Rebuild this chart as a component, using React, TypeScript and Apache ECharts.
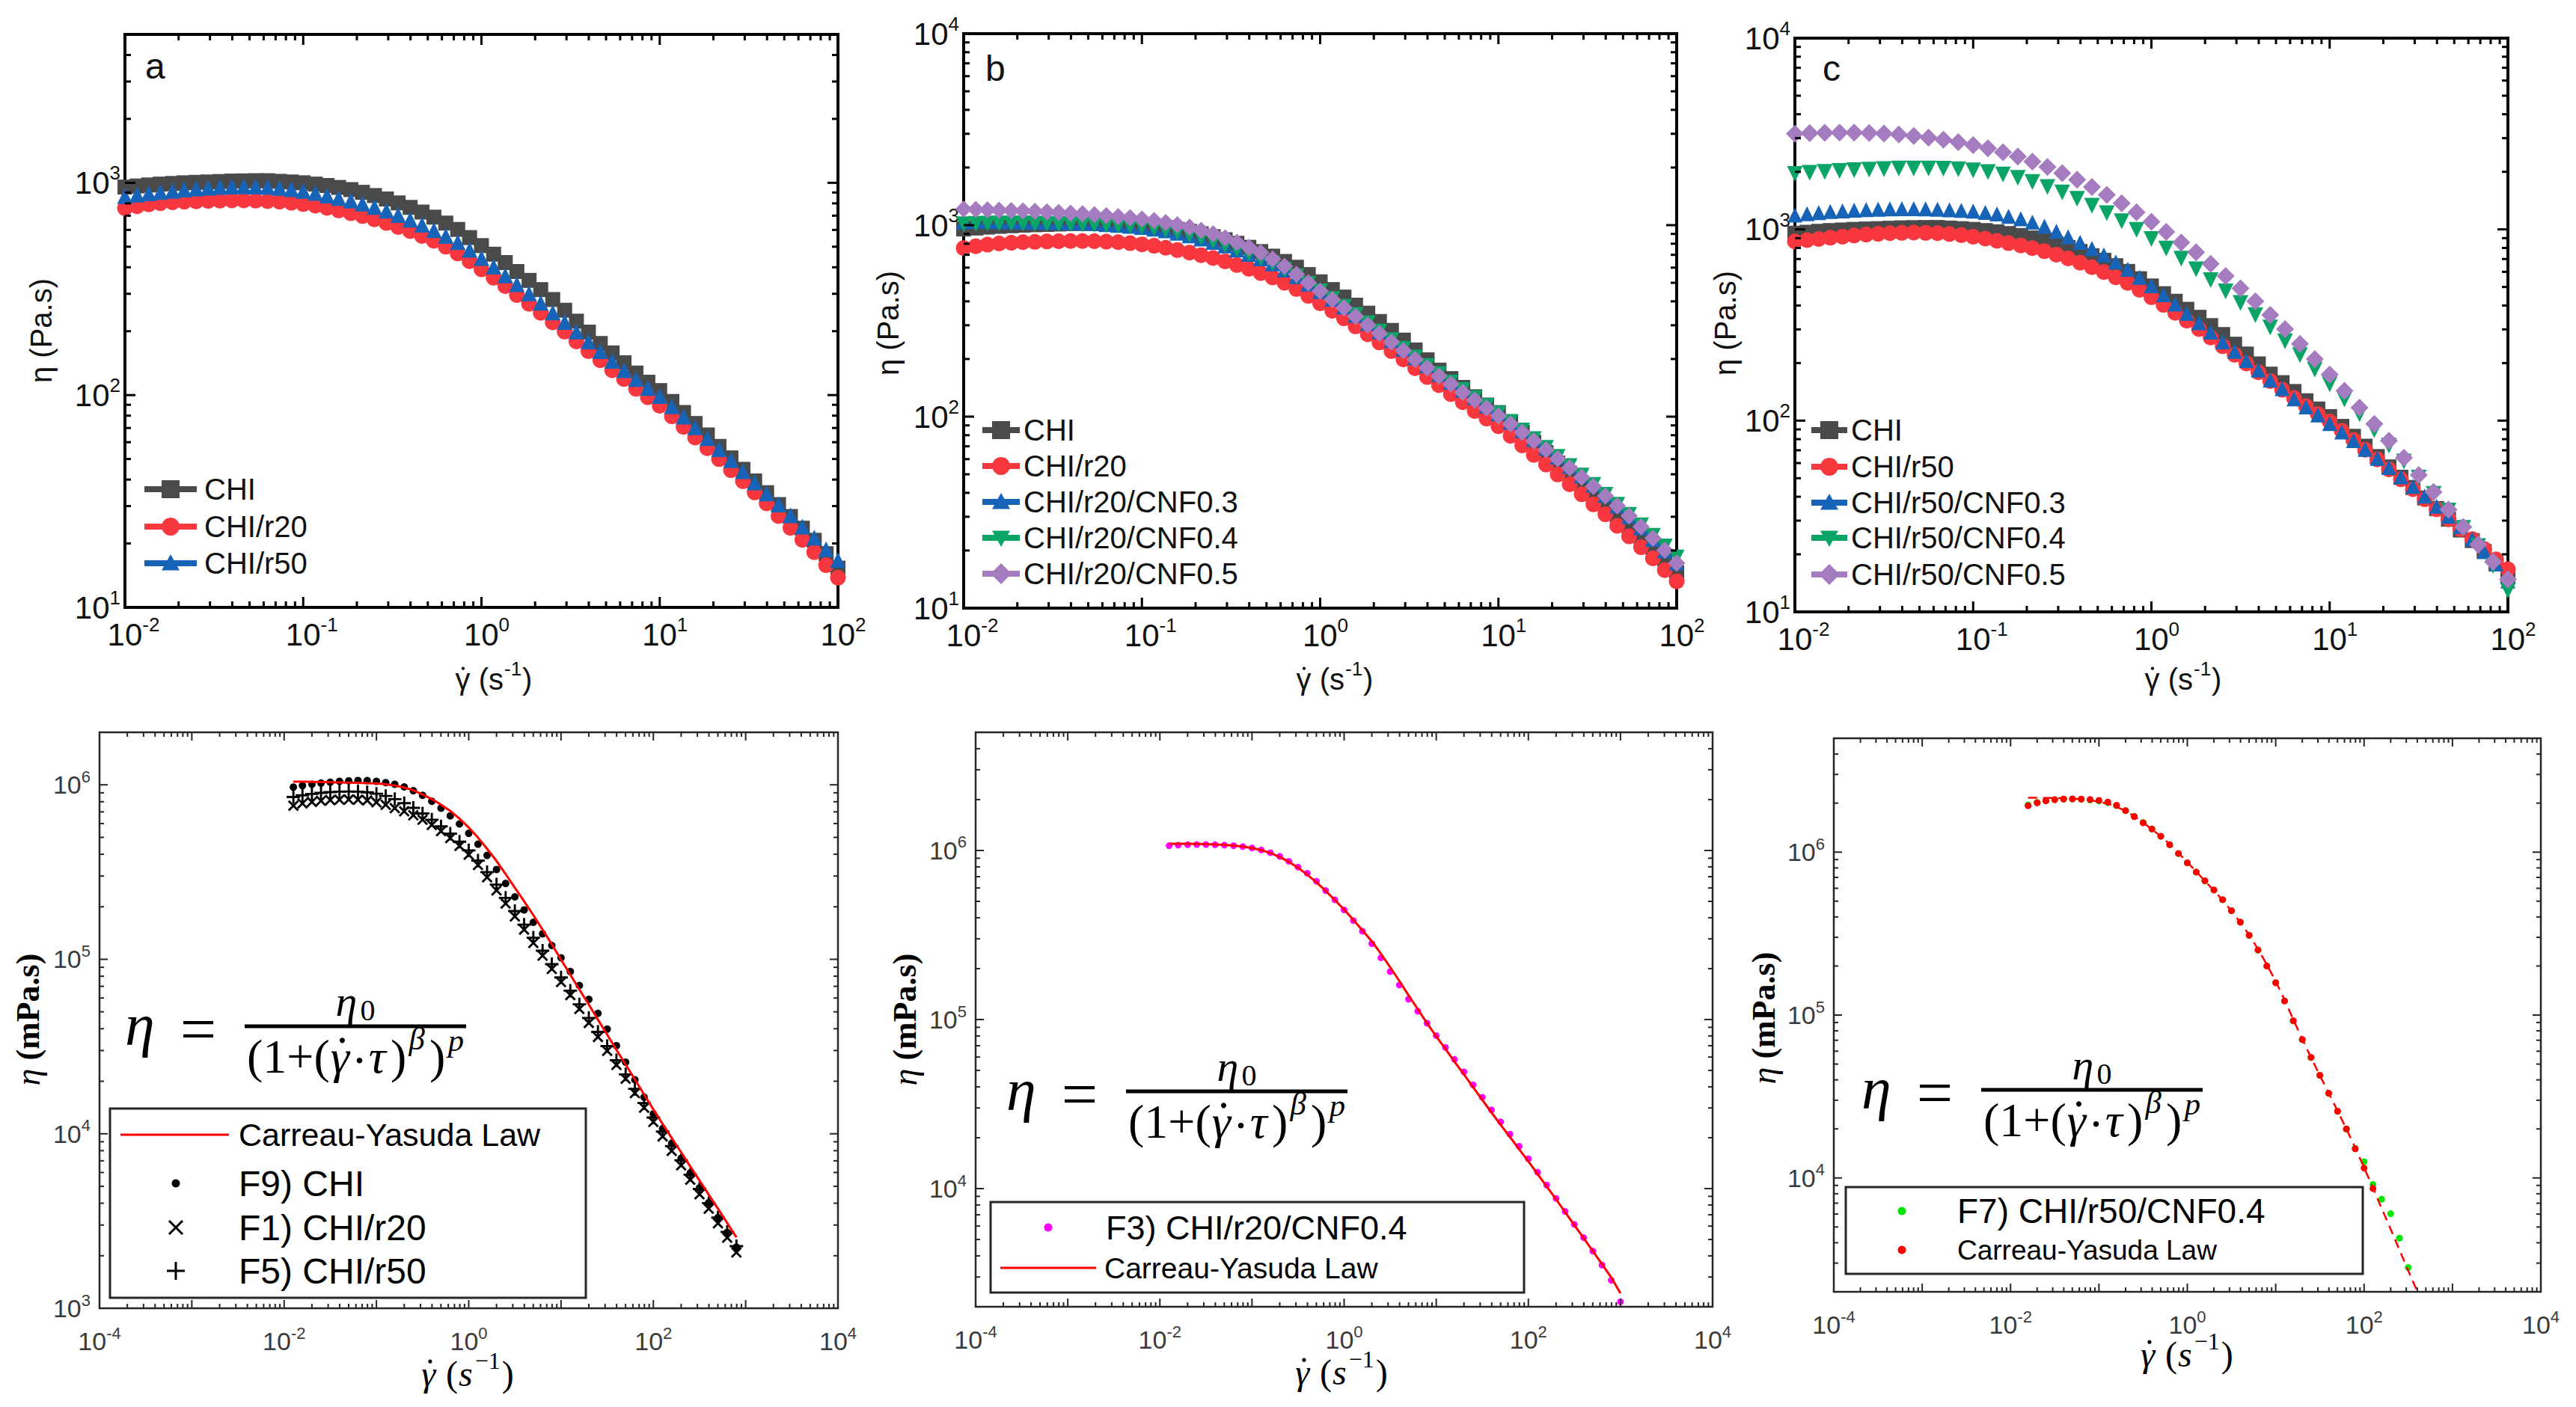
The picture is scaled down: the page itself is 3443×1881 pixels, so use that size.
import React, { useEffect, useRef } from "react";
import * as echarts from "echarts";

const SANS = "Liberation Sans, Arial, Helvetica, sans-serif";
const SERIF = "Liberation Serif, Times New Roman, serif";

// ---------------- data: top row (Pa.s) ----------------
const SHEAR_RATE = [
  0.01, 0.0117, 0.0136, 0.0158, 0.0185, 0.0215, 0.0251, 0.0293, 0.0341, 0.0398, 0.0464, 0.0541, 0.0631, 0.0736, 0.0858,
  0.1, 0.117, 0.136, 0.158, 0.185, 0.215, 0.251, 0.293, 0.341, 0.398, 0.464, 0.541, 0.631, 0.736, 0.858,
  1, 1.17, 1.36, 1.58, 1.85, 2.15, 2.51, 2.93, 3.41, 3.98, 4.64, 5.41, 6.31, 7.36, 8.58,
  10, 11.7, 13.6, 15.8, 18.5, 21.5, 25.1, 29.3, 34.1, 39.8, 46.4, 54.1, 63.1, 73.6, 85.8,
  100,
];
const SHEAR_RATE_SPARSE = [
  0.01, 0.0121, 0.0147, 0.0178, 0.0215, 0.0261, 0.0316, 0.0383, 0.0464, 0.0562, 0.0681, 0.0825,
  0.1, 0.121, 0.147, 0.178, 0.215, 0.261, 0.316, 0.383, 0.464, 0.562, 0.681, 0.825,
  1, 1.21, 1.47, 1.78, 2.15, 2.61, 3.16, 3.83, 4.64, 5.62, 6.81, 8.25,
  10, 12.1, 14.7, 17.8, 21.5, 26.1, 31.6, 38.3, 46.4, 56.2, 68.1, 82.5,
  100,
];
const ETA_CHI = [
  955, 966, 977, 986, 993, 1000, 1005, 1009, 1014, 1019, 1021, 1023, 1023, 1016, 1009,
  1000, 986, 971, 951, 929, 902, 871, 839, 804, 766, 728, 689, 646, 603, 552,
  506, 461, 421, 382, 347, 314, 282, 251, 223, 198, 175, 158, 142, 127, 115,
  105, 93.3, 82.8, 73.5, 64.9, 57.3, 50.6, 44.7, 39.4, 34.7, 30.5, 26.8, 23.6, 20.7, 17.9,
  15.3,
];
const ETA_CHI_R20 = [
  759, 776, 791, 802, 809, 815, 818, 822, 824, 826, 826, 824, 820, 815, 805,
  794, 780, 762, 741, 719, 697, 673, 647, 619, 592, 562, 533, 500, 464, 427,
  391, 357, 326, 296, 269, 244, 220, 199, 179, 161, 146, 131, 119, 107, 97.7,
  89.1, 79.4, 70.8, 63.1, 56.2, 49.9, 44.3, 39.3, 34.8, 30.9, 26.9, 23.7, 20.8, 18.2, 15.8,
  13.8,
];
const ETA_CHI_R50 = [
  865, 879, 891, 904, 916, 929, 940, 948, 955, 959, 962, 959, 955, 946, 933,
  916, 895, 871, 847, 824, 798, 769, 738, 705, 670, 634, 598, 562, 525, 483,
  442, 403, 366, 333, 301, 272, 245, 221, 199, 179, 161, 145, 131, 119, 108,
  98.9, 88.5, 79.1, 70.5, 62.7, 55.6, 49.3, 43.8, 38.8, 34.4, 30.5, 27.1, 24.0, 21.3, 18.8,
  16.7,
];
const ETA_R20_CNF03 = [
  1047, 1050, 1050, 1047, 1045, 1042, 1040, 1038, 1035, 1033, 1028, 1023, 1012, 1002, 991,
  977, 959, 938, 912, 883, 851, 817, 782, 745, 708, 670, 631, 585, 541, 495,
  452, 412, 375, 340, 308, 279, 251, 226, 204, 185, 167, 152, 138, 126, 114,
  104, 94.0, 84.9, 76.6, 68.9, 61.8, 55.3, 49.4, 44.1, 39.0, 34.4, 30.2, 26.4, 23.0, 20.0,
  17.3,
];
const ETA_R20_CNF04 = [
  1012, 1016, 1019, 1021, 1021, 1021, 1019, 1017, 1014, 1012, 1009, 1005, 1000, 995, 988,
  980, 962, 942, 918, 891, 859, 824, 787, 748, 710, 670, 630, 586, 540, 494,
  451, 411, 374, 340, 308, 278, 251, 226, 204, 184, 167, 151, 138, 125, 114,
  104, 93.8, 84.7, 76.4, 68.7, 61.7, 55.2, 49.3, 44.0, 39.1, 34.7, 30.7, 27.1, 23.9, 21.0,
  18.4,
];
const ETA_R20_CNF05 = [
  1213, 1208, 1202, 1197, 1191, 1186, 1180, 1172, 1164, 1156, 1146, 1135, 1122, 1109, 1094,
  1076, 1057, 1033, 1005, 975, 940, 902, 859, 813, 766, 718, 665, 610, 553, 500,
  452, 409, 370, 334, 301, 272, 245, 221, 199, 180, 163, 148, 134, 122, 111,
  101, 91.6, 82.8, 74.6, 67.1, 60.3, 54.0, 48.3, 43.2, 38.5, 34.2, 30.3, 26.6, 23.2, 20.1,
  17.2,
];
const ETA_R50_CNF03 = [
  1189, 1208, 1225, 1239, 1250, 1259, 1268, 1274, 1279, 1282, 1282, 1279, 1274, 1265, 1256,
  1245, 1227, 1205, 1169, 1135, 1091, 1038, 977, 916, 855, 794, 735, 676, 619, 562,
  507, 455, 407, 364, 325, 290, 258, 230, 206, 184, 163, 147, 130, 118, 107,
  96.6, 87.3, 78.7, 70.8, 63.5, 56.9, 50.8, 45.3, 40.3, 35.7, 31.6, 27.9, 24.0, 20.7, 17.8,
  14.5,
];
const ETA_R50_CNF04 = [
  1950, 1977, 2000, 2023, 2042, 2056, 2070, 2080, 2084, 2084, 2075, 2061,
  2037, 1995, 1936, 1862, 1770, 1667, 1560, 1445, 1330, 1216, 1104, 995,
  891, 794, 703, 619, 543, 474, 412, 356, 307, 260, 220, 185,
  155, 129, 108, 89.3, 74.0, 61.1, 50.4, 41.4, 33.9, 27.5, 22.1, 17.4,
  12.9,
];
const ETA_R50_CNF05 = [
  3162, 3184, 3199, 3206, 3206, 3192, 3170, 3133, 3083, 3020, 2944, 2858,
  2761, 2655, 2535, 2404, 2265, 2118, 1968, 1820, 1667, 1517, 1371, 1230,
  1096, 971, 853, 759, 661, 571, 492, 421, 357, 301, 252, 210,
  174, 143, 117, 96.2, 78.5, 64.0, 52.0, 42.3, 34.3, 27.8, 22.5, 18.3,
  14.8,
];

// ---------------- data: bottom row (mPa.s) ----------------
const RATE_D = [
  0.0126, 0.0158, 0.02, 0.0251, 0.0316, 0.0398, 0.0501, 0.0631, 0.0794,
  0.1, 0.126, 0.158, 0.2, 0.251, 0.316, 0.398, 0.501, 0.631, 0.794,
  1, 1.26, 1.58, 2, 2.51, 3.16, 3.98, 5.01, 6.31, 7.94,
  10, 12.6, 15.8, 20, 25.1, 31.6, 39.8, 50.1, 63.1, 79.4,
  100, 126, 158, 200, 251, 316, 398, 501, 631, 794,
];
const F9_CHI = [
  9.70e5, 9.89e5, 1.007e6, 1.023e6, 1.035e6, 1.047e6, 1.054e6, 1.059e6, 1.057e6,
  1.047e6, 1.030e6, 1.007e6, 9.73e5, 9.25e5, 8.71e5, 8.05e5, 7.35e5, 6.64e5, 5.97e5,
  5.27e5, 4.57e5, 3.94e5, 3.27e5, 2.72e5, 2.28e5, 1.92e5, 1.63e5, 1.40e5, 1.20e5,
  1.02e5, 8.51e4, 7.08e4, 5.89e4, 4.90e4, 3.98e4, 3.20e4, 2.57e4, 2.04e4, 1.62e4,
  1.30e4, 1.07e4, 8.81e3, 7.24e3, 5.96e3, 4.90e3, 4.03e3, 3.31e3, 2.72e3, 2.24e3,
];
const F1_CHI_R20 = [
  7.59e5, 7.82e5, 7.98e5, 8.09e5, 8.17e5, 8.22e5, 8.24e5, 8.22e5, 8.13e5,
  7.94e5, 7.69e5, 7.35e5, 7.05e5, 6.70e5, 6.31e5, 5.89e5, 5.43e5, 4.95e5, 4.47e5,
  3.98e5, 3.47e5, 2.95e5, 2.48e5, 2.09e5, 1.76e5, 1.48e5, 1.24e5, 1.05e5, 8.81e4,
  7.41e4, 6.24e4, 5.19e4, 4.32e4, 3.59e4, 2.99e4, 2.48e4, 2.07e4, 1.71e4, 1.41e4,
  1.17e4, 9.66e3, 7.98e3, 6.59e3, 5.45e3, 4.50e3, 3.72e3, 3.07e3, 2.54e3, 2.09e3,
];
const F5_CHI_R50 = [
  8.51e5, 8.71e5, 8.87e5, 8.99e5, 9.08e5, 9.14e5, 9.16e5, 9.14e5, 9.06e5,
  8.89e5, 8.63e5, 8.28e5, 7.85e5, 7.38e5, 6.85e5, 6.31e5, 5.78e5, 5.25e5, 4.72e5,
  4.21e5, 3.68e5, 3.16e5, 2.68e5, 2.25e5, 1.89e5, 1.58e5, 1.33e5, 1.12e5, 9.38e4,
  7.87e4, 6.61e4, 5.52e4, 4.61e4, 3.84e4, 3.18e4, 2.64e4, 2.19e4, 1.81e4, 1.50e4,
  1.24e4, 1.03e4, 8.51e3, 7.05e3, 5.83e3, 4.83e3, 4.00e3, 3.31e3, 2.74e3, 2.27e3,
];
const CY_FIT_D = [
  1.042e6, 1.042e6, 1.040e6, 1.038e6, 1.035e6, 1.033e6, 1.030e6, 1.028e6, 1.023e6,
  1.019e6, 1.007e6, 9.91e5, 9.66e5, 9.29e5, 8.81e5, 8.28e5, 7.69e5, 7.08e5, 6.40e5,
  5.69e5, 4.98e5, 4.30e5, 3.66e5, 3.08e5, 2.57e5, 2.15e5, 1.79e5, 1.48e5, 1.22e5,
  9.95e4, 8.17e4, 6.70e4, 5.50e4, 4.51e4, 3.70e4, 3.03e4, 2.49e4, 2.05e4, 1.68e4,
  1.38e4, 1.14e4, 9.46e3, 7.83e3, 6.50e3, 5.40e3, 4.48e3, 3.72e3, 3.08e3, 2.55e3,
];
const RATE_E = [
  0.0126, 0.0158, 0.02, 0.0251, 0.0316, 0.0398, 0.0501, 0.0631, 0.0794,
  0.1, 0.126, 0.158, 0.2, 0.251, 0.316, 0.398, 0.501, 0.631, 0.794,
  1, 1.26, 1.58, 2, 2.51, 3.16, 3.98, 5.01, 6.31, 7.94,
  10, 12.6, 15.8, 20, 25.1, 31.6, 39.8, 50.1, 63.1, 79.4,
  100, 126, 158, 200, 251, 316, 398, 501, 631, 794, 1000,
];
const F3_R20_CNF04 = [
  1.067e6, 1.076e6, 1.081e6, 1.084e6, 1.084e6, 1.081e6, 1.076e6, 1.067e6, 1.054e6,
  1.035e6, 1.007e6, 9.70e5, 9.23e5, 8.63e5, 7.98e5, 7.33e5, 6.58e5, 5.79e5, 5.11e5,
  4.45e5, 3.85e5, 3.33e5, 2.81e5, 2.32e5, 1.92e5, 1.60e5, 1.32e5, 1.12e5, 9.51e4,
  8.04e4, 6.84e4, 5.81e4, 4.90e4, 4.11e4, 3.47e4, 2.92e4, 2.48e4, 2.10e4, 1.78e4,
  1.50e4, 1.25e4, 1.05e4, 8.75e3, 7.33e3, 6.14e3, 5.13e3, 4.27e3, 3.53e3, 2.87e3, 2.14e3,
];
const CY_FIT_E = [
  1.096e6, 1.096e6, 1.096e6, 1.094e6, 1.091e6, 1.086e6, 1.079e6, 1.069e6, 1.054e6,
  1.033e6, 1.005e6, 9.66e5, 9.16e5, 8.57e5, 7.91e5, 7.19e5, 6.47e5, 5.77e5, 5.09e5,
  4.47e5, 3.89e5, 3.37e5, 2.90e5, 2.45e5, 2.04e5, 1.69e5, 1.39e5, 1.15e5, 9.51e4,
  7.95e4, 6.70e4, 5.63e4, 4.73e4, 3.98e4, 3.35e4, 2.82e4, 2.38e4, 2.02e4, 1.71e4,
  1.45e4, 1.22e4, 1.03e4, 8.65e3, 7.25e3, 6.08e3, 5.10e3, 4.27e3, 3.57e3, 2.98e3, 2.40e3,
];
const RATE_F = [
  0.0158, 0.02, 0.0251, 0.0316, 0.0398, 0.0501, 0.0631, 0.0794,
  0.1, 0.126, 0.158, 0.2, 0.251, 0.316, 0.398, 0.501, 0.631, 0.794,
  1, 1.26, 1.58, 2, 2.51, 3.16, 3.98, 5.01, 6.31, 7.94,
  10, 12.6, 15.8, 20, 25.1, 31.6, 39.8, 50.1, 63.1, 79.4,
  100, 126, 158, 200, 251, 316,
];
const F7_R50_CNF04 = [
  1.95e6, 2.02e6, 2.07e6, 2.10e6, 2.12e6, 2.12e6, 2.11e6, 2.09e6,
  2.06e6, 2.01e6, 1.93e6, 1.80e6, 1.66e6, 1.52e6, 1.39e6, 1.25e6, 1.11e6, 9.80e5,
  8.60e5, 7.55e5, 6.65e5, 5.85e5, 5.10e5, 4.37e5, 3.72e5, 3.08e5, 2.50e5, 2.00e5,
  1.58e5, 1.22e5, 9.20e4, 7.05e4, 5.48e4, 4.26e4, 3.30e4, 2.56e4, 1.99e4, 1.52e4,
  1.26e4, 9.12e3, 7.41e3, 6.03e3, 4.27e3, 2.82e3,
];
const RATE_F_DOTS = [
  0.0158, 0.02, 0.0251, 0.0316, 0.0398, 0.0501, 0.0631, 0.0794,
  0.1, 0.126, 0.158, 0.2, 0.251, 0.316, 0.398, 0.501, 0.631, 0.794,
  1, 1.26, 1.58, 2, 2.51, 3.16, 3.98, 5.01, 6.31, 7.94,
  10, 12.6, 15.8, 20, 25.1, 31.6, 39.8, 50.1, 63.1, 79.4,
  100, 126,
];
const CY_DOTS_F = [
  1.928e6, 2.009e6, 2.065e6, 2.099e6, 2.118e6, 2.123e6, 2.118e6, 2.104e6,
  2.080e6, 2.032e6, 1.941e6, 1.799e6, 1.652e6, 1.514e6, 1.387e6, 1.253e6, 1.112e6, 9.82e5,
  8.61e5, 7.55e5, 6.68e5, 5.86e5, 5.11e5, 4.37e5, 3.72e5, 3.09e5, 2.51e5, 2.00e5,
  1.58e5, 1.22e5, 9.23e4, 7.08e4, 5.50e4, 4.27e4, 3.31e4, 2.57e4, 2.00e4, 1.51e4,
  1.15e4, 8.61e3,
];
const RATE_F_LINE = [
  0.0158, 0.02, 0.0251, 0.0316, 0.0398, 0.0501, 0.0631, 0.0794,
  0.1, 0.126, 0.158, 0.2, 0.251, 0.316, 0.398, 0.501, 0.631, 0.794,
  1, 1.26, 1.58, 2, 2.51, 3.16, 3.98, 5.01, 6.31, 7.94,
  10, 12.6, 15.8, 20, 25.1, 31.6, 39.8, 50.1, 63.1, 79.4,
  100, 126, 158, 200, 251, 316, 398, 501,
];
const CY_FIT_F = [
  2.16e6, 2.16e6, 2.15e6, 2.15e6, 2.14e6, 2.13e6, 2.11e6, 2.08e6,
  2.04e6, 1.98e6, 1.90e6, 1.79e6, 1.66e6, 1.52e6, 1.38e6, 1.25e6, 1.12e6, 9.90e5,
  8.68e5, 7.60e5, 6.65e5, 5.82e5, 5.06e5, 4.35e5, 3.70e5, 3.10e5, 2.54e5, 2.04e5,
  1.61e5, 1.24e5, 9.40e4, 7.12e4, 5.48e4, 4.26e4, 3.32e4, 2.58e4, 2.00e4, 1.53e4,
  1.16e4, 8.70e3, 6.50e3, 4.85e3, 3.62e3, 2.70e3, 2.02e3, 1.51e3,
];

// ---------------- layout / styles ----------------
const GRAY = "#4a4a4a";
const RED = "#f8373f";
const BLUE = "#1663b8";
const GREEN = "#0aa566";
const PURPLE = "#a67cc0";

const PANELS = [
  { left: 167, top: 46, width: 953, height: 766, x: [0.01, 100], y: [10, 5000], kind: "top" },
  { left: 1288, top: 45, width: 953, height: 768, x: [0.01, 100], y: [10, 10000], kind: "top" },
  { left: 2399, top: 51, width: 953, height: 767, x: [0.01, 100], y: [10, 10000], kind: "top" },
  { left: 133, top: 979, width: 987, height: 770, x: [1e-4, 1e4], y: [1000, 2e6], kind: "bottom" },
  { left: 1304, top: 979, width: 985, height: 768, x: [1e-4, 1e4], y: [2000, 5e6], kind: "bottom" },
  { left: 2451, top: 987, width: 945, height: 740, x: [1e-4, 1e4], y: [2000, 5e6], kind: "bottom" },
];

const TOP_INK = "#111111";
const BOT_INK = "#262626";
const BOT_LABEL = "#3a3a3a";

function expOf(v: number) {
  const e = Math.log10(v);
  const r = Math.round(e);
  return Math.abs(e - r) < 1e-6 ? r : null;
}

const TOP_RICH = {
  b0: { fontSize: 42, fontFamily: SANS, color: TOP_INK, lineHeight: 52 },
  b1: { fontSize: 42, fontFamily: SANS, color: TOP_INK, lineHeight: 52, padding: [0, 0, 0, 14] },
  b2: { fontSize: 42, fontFamily: SANS, color: TOP_INK, lineHeight: 52, padding: [0, 0, 0, 23] },
  s: { fontSize: 26, fontFamily: SANS, color: TOP_INK, lineHeight: 20, verticalAlign: "top" },
};
const BOT_RICH = {
  b: { fontSize: 34, fontFamily: SANS, color: BOT_LABEL, lineHeight: 44 },
  s: { fontSize: 22, fontFamily: SANS, color: BOT_LABEL, lineHeight: 14, verticalAlign: "top" },
};

function decadeTicks(min: number, max: number) {
  const major: number[] = [];
  const minor: number[] = [];
  const k0 = Math.floor(Math.log10(min)) - 1;
  const k1 = Math.ceil(Math.log10(max)) + 1;
  for (let k = k0; k <= k1; k++) {
    for (let m = 1; m <= 9; m++) {
      const v = m * Math.pow(10, k);
      if (v < min * 0.9999 || v > max * 1.0001) continue;
      (m === 1 ? major : minor).push(v);
    }
  }
  return { major, minor };
}

function tickSeries(gi: number, p: any) {
  const top = p.kind === "top";
  const majLen = top ? 14 : 11;
  const minLen = top ? 8 : 6;
  const lw = top ? 3 : 2;
  const color = top ? "#000" : BOT_INK;
  const xt = decadeTicks(p.x[0], p.x[1]);
  const yt = decadeTicks(p.y[0], p.y[1]);
  return {
    type: "custom",
    xAxisIndex: gi,
    yAxisIndex: gi,
    silent: true,
    z: 6,
    clip: false,
    data: [[p.x[0], p.y[0]]],
    renderItem: (_params: any, api: any) => {
      const children: any[] = [];
      const seg = (x1: number, y1: number, x2: number, y2: number) =>
        children.push({ type: "line", shape: { x1, y1, x2, y2 }, style: { stroke: color, lineWidth: lw } });
      const addX = (v: number, len: number) => {
        const b = api.coord([v, p.y[0]]);
        const t = api.coord([v, p.y[1]]);
        seg(b[0], b[1], b[0], b[1] - len);
        seg(t[0], t[1], t[0], t[1] + len);
      };
      const addY = (v: number, len: number) => {
        const l = api.coord([p.x[0], v]);
        const r = api.coord([p.x[1], v]);
        seg(l[0], l[1], l[0] + len, l[1]);
        seg(r[0], r[1], r[0] - len, r[1]);
      };
      xt.major.forEach((v) => addX(v, majLen));
      xt.minor.forEach((v) => addX(v, minLen));
      yt.major.forEach((v) => addY(v, majLen));
      yt.minor.forEach((v) => addY(v, minLen));
      return { type: "group", children };
    },
  };
}

function pairs(xs: number[], ys: number[]) {
  return xs.map((x, i) => [x, ys[i]]);
}

function scatter(gi: number, name: string, xs: number[], ys: number[], color: string, symbol: string, size: number, rotate = 0) {
  return {
    type: "scatter",
    name,
    xAxisIndex: gi,
    yAxisIndex: gi,
    data: pairs(xs, ys),
    symbol,
    symbolSize: size,
    symbolRotate: rotate,
    itemStyle: { color, opacity: 1 },
    silent: true,
    z: 2,
  };
}

function curve(gi: number, name: string, xs: number[], ys: number[], color: string, width: number, dash: any = "solid") {
  return {
    type: "line",
    name,
    xAxisIndex: gi,
    yAxisIndex: gi,
    data: pairs(xs, ys),
    showSymbol: false,
    symbol: "none",
    clip: true,
    lineStyle: { color, width, type: dash },
    silent: true,
    z: 3,
  };
}

const PLUS = "path://M8.4,0H11.6V20H8.4ZM0,8.4H20V11.6H0Z";

// ---------------- text helpers ----------------
let measureCtx: any = null;
function fontStr(size: number, family: string, italic?: boolean, bold?: boolean) {
  return (italic ? "italic " : "") + (bold ? "bold " : "") + size + "px " + family;
}
function measure(t: string, font: string) {
  if (!measureCtx) measureCtx = document.createElement("canvas").getContext("2d");
  measureCtx.font = font;
  return measureCtx.measureText(t).width;
}

function txt(x: number, y: number, text: string, o: any = {}) {
  return {
    type: "text",
    x,
    y,
    rotation: o.rotation || 0,
    z: 20,
    silent: true,
    style: {
      text,
      fill: o.color || "#000",
      fontSize: o.size || 40,
      fontFamily: o.family || SANS,
      fontStyle: o.style || "normal",
      fontWeight: o.weight || "normal",
      align: o.align || "left",
      verticalAlign: o.va || "middle",
      rich: o.rich,
    },
  };
}

// lays out pieces on one line, centred at (xc, y); 'gap' adds space after a piece
function compose(xc: number, y: number, pieces: any[], family: string, color: string, fitWidth?: number) {
  let scale = 1;
  const widthOf = (sc: number) =>
    pieces.reduce((s, p) => s + measure(p.t, fontStr(p.size * sc, family, p.italic, p.bold)) + (p.gap || 0) * sc, 0);
  if (fitWidth) scale = fitWidth / widthOf(1);
  const total = widthOf(scale);
  let x = xc - total / 2;
  const out: any[] = [];
  pieces.forEach((p) => {
    const size = p.size * scale;
    const w = measure(p.t, fontStr(size, family, p.italic, p.bold));
    out.push(
      txt(x, y + (p.dy || 0) * scale, p.t, {
        size,
        family,
        style: p.italic ? "italic" : "normal",
        weight: p.bold ? "bold" : "normal",
        color,
      })
    );
    if (p.dot) {
      out.push({
        type: "circle",
        z: 21,
        shape: { cx: x + w * (p.italic ? 0.62 : 0.52), cy: y - size * (p.italic ? 0.33 : 0.36), r: Math.max(2.2, size * 0.055) },
        style: { fill: color },
      });
    }
    x += w + (p.gap || 0) * scale;
  });
  return out;
}

function marker(kind: string, cx: number, cy: number, s: number, color: string) {
  const h = s / 2;
  if (kind === "square") return { type: "rect", z: 21, shape: { x: cx - h, y: cy - h, width: s, height: s }, style: { fill: color } };
  if (kind === "circle") return { type: "circle", z: 21, shape: { cx, cy, r: h }, style: { fill: color } };
  if (kind === "up") return { type: "polygon", z: 21, shape: { points: [[cx, cy - h], [cx + h, cy + h * 0.8], [cx - h, cy + h * 0.8]] }, style: { fill: color } };
  if (kind === "down") return { type: "polygon", z: 21, shape: { points: [[cx, cy + h], [cx + h, cy - h * 0.8], [cx - h, cy - h * 0.8]] }, style: { fill: color } };
  return { type: "polygon", z: 21, shape: { points: [[cx, cy - h], [cx + h, cy], [cx, cy + h], [cx - h, cy]] }, style: { fill: color } };
}

function topLegend(x1: number, x2: number, tx: number, ys: number[], items: any[]) {
  const out: any[] = [];
  items.forEach((it, i) => {
    const y = ys[i];
    out.push({ type: "line", z: 20, shape: { x1, y1: y, x2, y2: y }, style: { stroke: it.color, lineWidth: 8 } });
    out.push(marker(it.sym, (x1 + x2) / 2, y, it.sym === "diamond" ? 28 : 24, it.color));
    out.push(txt(tx, y, it.name, { size: 40, color: "#111" }));
  });
  return out;
}

function box(x: number, y: number, w: number, h: number) {
  return { type: "rect", z: 19, shape: { x, y, width: w, height: h }, style: { fill: "#fff", stroke: BOT_INK, lineWidth: 3 } };
}

function cross(cx: number, cy: number, s: number, rot: boolean) {
  const h = s / 2;
  const st = { stroke: "#000", lineWidth: 3 };
  if (rot)
    return [
      { type: "line", z: 21, shape: { x1: cx - h, y1: cy - h, x2: cx + h, y2: cy + h }, style: st },
      { type: "line", z: 21, shape: { x1: cx - h, y1: cy + h, x2: cx + h, y2: cy - h }, style: st },
    ];
  return [
    { type: "line", z: 21, shape: { x1: cx - h, y1: cy, x2: cx + h, y2: cy }, style: st },
    { type: "line", z: 21, shape: { x1: cx, y1: cy - h, x2: cx, y2: cy + h }, style: st },
  ];
}

const GAMMA = "\u03b3";
const ETA = "\u03b7";

function formula(bx: number, by: number) {
  const w = 296;
  const out: any[] = [];
  out.push(txt(bx - 160, by - 2, ETA, { size: 80, family: SERIF, style: "italic" }));
  out.push(txt(bx - 62, by + 4, "=", { size: 86, family: SERIF, align: "center" }));
  out.push({ type: "rect", z: 20, shape: { x: bx, y: by - 2.5, width: w, height: 5 }, style: { fill: "#000" } });
  out.push(
    ...compose(
      bx + w / 2,
      by - 34,
      [
        { t: ETA, size: 58, italic: true, gap: 4 },
        { t: "0", size: 40, dy: 12 },
      ],
      SERIF,
      "#000"
    )
  );
  out.push(
    ...compose(
      bx + w / 2,
      by + 40,
      [
        { t: "(1+(", size: 60, gap: 1 },
        { t: GAMMA, size: 60, italic: true, dot: true, gap: 5 },
        { t: ".", size: 60, dy: -12, gap: 4 },
        { t: "\u03c4", size: 60, italic: true, gap: 6 },
        { t: ")", size: 60, gap: 3 },
        { t: "\u03b2", size: 40, italic: true, dy: -22, gap: 6 },
        { t: ")", size: 60, gap: 3 },
        { t: "p", size: 40, italic: true, dy: -20 },
      ],
      SERIF,
      "#000",
      290
    )
  );
  return out;
}

const BOT_YNAME_RICH = {
  i: { fontSize: 46, fontFamily: SERIF, fontStyle: "italic", fill: "#000", lineHeight: 54 },
  b: { fontSize: 44, fontFamily: SERIF, fontWeight: "bold", fill: "#000", lineHeight: 54 },
};

function buildOption() {
  const grid = PANELS.map((p) => ({
    left: p.left,
    top: p.top,
    width: p.width,
    height: p.height,
    show: true,
    backgroundColor: "rgba(0,0,0,0)",
    borderColor: p.kind === "top" ? "#000" : BOT_INK,
    borderWidth: p.kind === "top" ? 4 : 2.5,
    containLabel: false,
    outerBoundsMode: "none",
  }));

  const xAxis = PANELS.map((p, i) => ({
    type: "log",
    logBase: 10,
    gridIndex: i,
    min: p.x[0],
    max: p.x[1],
    axisLine: { show: false },
    axisTick: { show: false },
    minorTick: { show: false },
    splitLine: { show: false },
    axisLabel:
      p.kind === "top"
        ? {
            interval: 0,
            margin: 10,
            formatter: (v: number) => {
              const r = expOf(v);
              if (r === null) return "";
              const s = String(r);
              return "{b" + s.length + "|10}{s|" + s + "}";
            },
            rich: TOP_RICH,
          }
        : {
            interval: 0,
            margin: 22,
            formatter: (v: number) => {
              const r = expOf(v);
              if (r === null || r % 2 !== 0) return "";
              return "{b|10}{s|" + r + "}";
            },
            rich: BOT_RICH,
          },
  }));

  const yAxis = PANELS.map((p, i) => ({
    type: "log",
    logBase: 10,
    gridIndex: i,
    min: p.y[0],
    max: p.y[1],
    axisLine: { show: false },
    axisTick: { show: false },
    minorTick: { show: false },
    splitLine: { show: false },
    axisLabel:
      p.kind === "top"
        ? {
            interval: 0,
            margin: 6,
            formatter: (v: number) => {
              const r = expOf(v);
              if (r === null) return "";
              return "{b0|10}{s|" + r + "}";
            },
            rich: TOP_RICH,
          }
        : {
            interval: 0,
            margin: 12,
            formatter: (v: number) => {
              const r = expOf(v);
              if (r === null) return "";
              return "{b|10}{s|" + r + "}";
            },
            rich: BOT_RICH,
          },
  }));

  const series: any[] = [
    // (a)
    scatter(0, "CHI", SHEAR_RATE, ETA_CHI, GRAY, "rect", 20),
    scatter(0, "CHI/r20", SHEAR_RATE, ETA_CHI_R20, RED, "circle", 21),
    scatter(0, "CHI/r50", SHEAR_RATE, ETA_CHI_R50, BLUE, "triangle", 21),
    // (b)
    scatter(1, "CHI", SHEAR_RATE, ETA_CHI, GRAY, "rect", 20),
    scatter(1, "CHI/r20", SHEAR_RATE, ETA_CHI_R20, RED, "circle", 21),
    scatter(1, "CHI/r20/CNF0.3", SHEAR_RATE, ETA_R20_CNF03, BLUE, "triangle", 21),
    scatter(1, "CHI/r20/CNF0.4", SHEAR_RATE, ETA_R20_CNF04, GREEN, "triangle", 21, 180),
    scatter(1, "CHI/r20/CNF0.5", SHEAR_RATE, ETA_R20_CNF05, PURPLE, "diamond", 23),
    // (c)
    scatter(2, "CHI", SHEAR_RATE, ETA_CHI, GRAY, "rect", 20),
    scatter(2, "CHI/r50", SHEAR_RATE, ETA_CHI_R50, RED, "circle", 21),
    scatter(2, "CHI/r50/CNF0.3", SHEAR_RATE, ETA_R50_CNF03, BLUE, "triangle", 20),
    scatter(2, "CHI/r50/CNF0.4", SHEAR_RATE_SPARSE, ETA_R50_CNF04, GREEN, "triangle", 21, 180),
    scatter(2, "CHI/r50/CNF0.5", SHEAR_RATE_SPARSE, ETA_R50_CNF05, PURPLE, "diamond", 24),
    // (d)
    curve(3, "Carreau-Yasuda Law", RATE_D, CY_FIT_D, "#ff0000", 3),
    scatter(3, "F9) CHI", RATE_D, F9_CHI, "#000", "circle", 10),
    scatter(3, "F1) CHI/r20", RATE_D, F1_CHI_R20, "#000", PLUS, 18, 45),
    scatter(3, "F5) CHI/r50", RATE_D, F5_CHI_R50, "#000", PLUS, 18),
    // (e)
    scatter(4, "F3) CHI/r20/CNF0.4", RATE_E, F3_R20_CNF04, "#ff00ff", "circle", 9),
    curve(4, "Carreau-Yasuda Law", RATE_E, CY_FIT_E, "#ff0000", 3),
    // (f)
    scatter(5, "F7) CHI/r50/CNF0.4", RATE_F, F7_R50_CNF04, "#00e600", "circle", 9),
    curve(5, "Carreau-Yasuda Law", RATE_F_LINE, CY_FIT_F, "#ff0000", 2.5, [12, 8]),
    scatter(5, "Carreau-Yasuda Law ", RATE_F_DOTS, CY_DOTS_F, "#ff0000", "circle", 9),
  ];
  PANELS.forEach((p, i) => series.push(tickSeries(i, p)));

  const g: any[] = [];
  // panel letters
  g.push(txt(194, 88, "a", { size: 48, color: "#111" }));
  g.push(txt(1317, 91, "b", { size: 48, color: "#111" }));
  g.push(txt(2436, 91, "c", { size: 48, color: "#111" }));

  // top axis names
  const topX = [660, 1784, 2918];
  topX.forEach((x) =>
    g.push(
      ...compose(
        x,
        908,
        [
          { t: GAMMA, size: 40, dot: true },
          { t: " (s", size: 40, gap: 1 },
          { t: "-1", size: 26, dy: -14, gap: 1 },
          { t: ")", size: 40 },
        ],
        SANS,
        "#111"
      )
    )
  );
  const topY = [
    [55, 442],
    [1187, 432],
    [2306, 432],
  ];
  topY.forEach(([x, y]) => g.push(txt(x, y, ETA + " (Pa.s)", { size: 40, color: "#111", align: "center", rotation: Math.PI / 2 })));

  // top legends
  g.push(
    ...topLegend(193, 263, 273, [654, 704, 753], [
      { name: "CHI", color: GRAY, sym: "square" },
      { name: "CHI/r20", color: RED, sym: "circle" },
      { name: "CHI/r50", color: BLUE, sym: "up" },
    ])
  );
  g.push(
    ...topLegend(1313, 1363, 1368, [575, 623, 671, 719, 767], [
      { name: "CHI", color: GRAY, sym: "square" },
      { name: "CHI/r20", color: RED, sym: "circle" },
      { name: "CHI/r20/CNF0.3", color: BLUE, sym: "up" },
      { name: "CHI/r20/CNF0.4", color: GREEN, sym: "down" },
      { name: "CHI/r20/CNF0.5", color: PURPLE, sym: "diamond" },
    ])
  );
  g.push(
    ...topLegend(2421, 2469, 2474, [575, 624, 672, 719, 768], [
      { name: "CHI", color: GRAY, sym: "square" },
      { name: "CHI/r50", color: RED, sym: "circle" },
      { name: "CHI/r50/CNF0.3", color: BLUE, sym: "up" },
      { name: "CHI/r50/CNF0.4", color: GREEN, sym: "down" },
      { name: "CHI/r50/CNF0.5", color: PURPLE, sym: "diamond" },
    ])
  );

  // bottom axis names
  const botX = [
    [625, 1836],
    [1793, 1834],
    [2923, 1810],
  ];
  botX.forEach(([x, y]) =>
    g.push(
      ...compose(
        x,
        y,
        [
          { t: GAMMA, size: 48, italic: true, dot: true, gap: 2 },
          { t: " (", size: 48, gap: 1 },
          { t: "s", size: 48, italic: true, gap: 3 },
          { t: "\u22121", size: 32, dy: -17, gap: 2 },
          { t: ")", size: 48 },
        ],
        SERIF,
        "#000"
      )
    )
  );
  const botY = [
    [37, 1363],
    [1209, 1363],
    [2357, 1361],
  ];
  botY.forEach(([x, y]) =>
    g.push(txt(x, y, "{i|" + ETA + "}{b| (mPa.s)}", { align: "center", rotation: Math.PI / 2, rich: BOT_YNAME_RICH }))
  );

  // formulas
  g.push(...formula(327, 1372));
  g.push(...formula(1505, 1459));
  g.push(...formula(2648, 1457));

  // legend (d)
  g.push(box(147, 1482, 636, 253));
  g.push({ type: "line", z: 21, shape: { x1: 161, y1: 1517, x2: 306, y2: 1517 }, style: { stroke: "#ff0000", lineWidth: 3 } });
  g.push(txt(319, 1517, "Carreau-Yasuda Law", { size: 43 }));
  g.push({ type: "circle", z: 21, shape: { cx: 235, cy: 1582, r: 5.5 }, style: { fill: "#000" } });
  g.push(txt(319, 1582, "F9) CHI", { size: 48 }));
  g.push(...cross(235, 1641, 18, true));
  g.push(txt(319, 1641, "F1) CHI/r20", { size: 48 }));
  g.push(...cross(235, 1699, 24, false));
  g.push(txt(319, 1699, "F5) CHI/r50", { size: 48 }));

  // legend (e)
  g.push(box(1324, 1607, 713, 121));
  g.push({ type: "circle", z: 21, shape: { cx: 1401, cy: 1641, r: 5.5 }, style: { fill: "#ff00ff" } });
  g.push(txt(1478, 1641, "F3) CHI/r20/CNF0.4", { size: 45 }));
  g.push({ type: "line", z: 21, shape: { x1: 1337, y1: 1695, x2: 1465, y2: 1695 }, style: { stroke: "#ff0000", lineWidth: 3 } });
  g.push(txt(1476, 1695, "Carreau-Yasuda Law", { size: 39 }));

  // legend (f)
  g.push(box(2467, 1587, 691, 116));
  g.push({ type: "circle", z: 21, shape: { cx: 2542, cy: 1619, r: 5.5 }, style: { fill: "#00e600" } });
  g.push(txt(2616, 1619, "F7) CHI/r50/CNF0.4", { size: 46 }));
  g.push({ type: "circle", z: 21, shape: { cx: 2542, cy: 1671, r: 5.5 }, style: { fill: "#ff0000" } });
  g.push(txt(2616, 1671, "Carreau-Yasuda Law", { size: 37 }));

  return {
    animation: false,
    backgroundColor: "#ffffff",
    textStyle: { fontFamily: SANS },
    grid,
    xAxis,
    yAxis,
    series,
    graphic: { elements: g },
  };
}

export default function App() {
  const ref = useRef<HTMLDivElement | null>(null);
  useEffect(() => {
    if (!ref.current) return;
    const chart = echarts.init(ref.current, null, { renderer: "svg" });
    chart.setOption(buildOption() as any);
    return () => chart.dispose();
  }, []);
  return (
    <div
      ref={ref}
      style={{ position: "fixed", left: 0, top: 0, width: 3443, height: 1881, background: "#fff" }}
    />
  );
}
